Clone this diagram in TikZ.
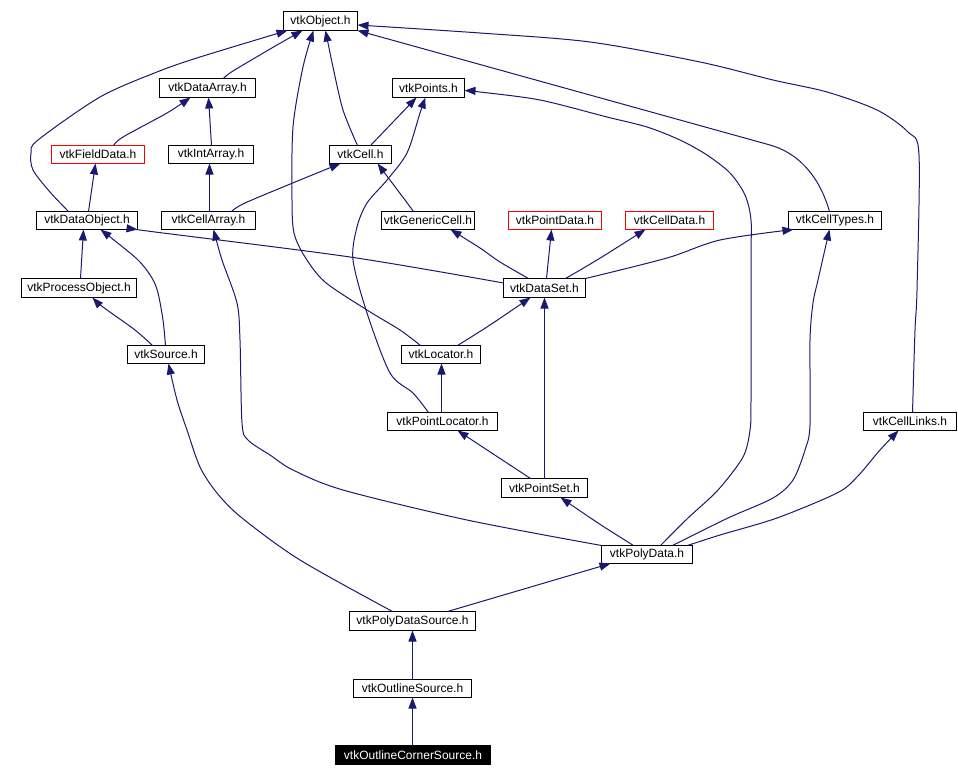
\documentclass[tikz,border=0pt]{standalone}
\usepackage{fontspec}
\setmainfont{Liberation Sans}
\usetikzlibrary{arrows.meta}
\definecolor{edgec}{HTML}{191970}
\definecolor{redb}{HTML}{FF0000}
\newcommand\gnode[7][]{\node[box,#1,minimum width={#5pt-#3pt},minimum height={#6pt-#4pt}] (#2) at ({#3+0.5},{#4+0.5}) {#7};}
\tikzset{
  box/.style={draw=black, line width=1pt, anchor=north west, inner sep=0pt, outer sep=0pt, font=\fontsize{12}{14}\selectfont},
  redbox/.style={draw=redb},
  focus/.style={fill=black, text=white},
  edge/.style={draw=edgec, line width=1pt, -{Triangle[length=11pt,width=8pt]}},
}
\begin{document}
\begin{tikzpicture}[x=1pt,y=-1pt]
\fill[white] (0,0) rectangle (958,776);
\useasboundingbox (0,0) rectangle (958,776);
% nodes
\gnode{Object}{283}{11}{357}{30}{vtkObject.h}
\gnode{DataArray}{159}{78}{255}{97}{vtkDataArray.h}
\gnode{Points}{392}{78}{464}{97}{vtkPoints.h}
\gnode[redbox]{FieldData}{51}{145}{144}{163}{vtkFieldData.h}
\gnode{IntArray}{168}{145}{253}{163}{vtkIntArray.h}
\gnode{Cell}{329}{145}{391}{163}{vtkCell.h}
\gnode{DataObject}{36}{211}{137}{229}{vtkDataObject.h}
\gnode{CellArray}{161}{211}{255}{229}{vtkCellArray.h}
\gnode{GenericCell}{381}{211}{474}{229}{vtkGenericCell.h}
\gnode[redbox]{PointData}{508}{211}{601}{229}{vtkPointData.h}
\gnode[redbox]{CellData}{625}{211}{713}{229}{vtkCellData.h}
\gnode{CellTypes}{788}{211}{881}{229}{vtkCellTypes.h}
\gnode{ProcessObject}{21}{278}{136}{297}{vtkProcessObject.h}
\gnode{DataSet}{503}{278}{585}{297}{vtkDataSet.h}
\gnode{Source}{127}{345}{204}{363}{vtkSource.h}
\gnode{Locator}{401}{345}{480}{363}{vtkLocator.h}
\gnode{PointLocator}{387}{412}{497}{430}{vtkPointLocator.h}
\gnode{CellLinks}{863}{412}{956}{430}{vtkCellLinks.h}
\gnode{PointSet}{501}{478}{587}{497}{vtkPointSet.h}
\gnode{PolyData}{601}{545}{692}{563}{vtkPolyData.h}
\gnode{PolyDataSource}{349}{611}{475}{630}{vtkPolyDataSource.h}
\gnode{OutlineSource}{353}{679}{471}{697}{vtkOutlineSource.h}
\gnode[focus]{OutlineCornerSource}{335}{745}{490}{764}{vtkOutlineCornerSource.h}
% edges
\draw[edge] plot[smooth] coordinates {([xshift=64pt]DataArray.north west) (233,71) (277,45) ([xshift=19pt]Object.south west)};
\draw[edge] plot[smooth] coordinates {([xshift=32pt]DataObject.north west) (50,192) (33,170) (31,153) (38,140) (100,97) (157,72) (200,57) ([xshift=4pt]Object.south west)};
\draw[edge] plot[smooth] coordinates {([xshift=62pt]FieldData.north west) (123,137) (167,113) ([xshift=31pt]DataArray.south west)};
\draw[edge] ([xshift=43pt]IntArray.north west) -- ([xshift=49pt]DataArray.south west);
\draw[edge] ([xshift=52pt]DataObject.north west) -- ([xshift=44pt]FieldData.south west);
\draw[edge] ([xshift=48pt]CellArray.north west) -- ([xshift=41pt]IntArray.south west);
\draw[edge] plot[smooth] coordinates {([xshift=70pt]CellArray.north west) (245,203) (300,180) ([xshift=11pt]Cell.south west)};
\draw[edge] plot[smooth] coordinates {([xshift=28pt]Cell.north west) (343,110) (333,67) ([xshift=42pt]Object.south west)};
\draw[edge] ([xshift=41pt]Cell.north west) -- ([xshift=24pt]Points.south west);
\draw[edge] plot[smooth] coordinates {([xshift=32pt]GenericCell.north west) (405,200) ([xshift=48pt]Cell.south west)};
\draw[edge] plot[smooth] coordinates {([xshift=19pt]Locator.north west) (400,330) (367,310) (325,282) (305,257) (294,233) (292,200) (293,127) (303,67) ([xshift=30pt]Object.south west)};
\draw[edge] plot[smooth] coordinates {([xshift=41pt]PointLocator.north west) (413,393) (390,373) (367,313) (353,260) (357,227) (367,203) (387,180) (407,153) (420,113) ([xshift=33pt]Points.south west)};
\draw[edge] plot[smooth] coordinates {([yshift=5pt]DataSet.west) (350,257) (155,232) (DataObject.south east)};
\draw[edge] plot[smooth] coordinates {([xshift=25pt]DataSet.north west) (500,262) (480,248) ([xshift=69pt]GenericCell.south west)};
\draw[edge] ([xshift=43pt]DataSet.north west) -- ([xshift=43pt]PointData.south west);
\draw[edge] plot[smooth] coordinates {([xshift=62pt]DataSet.north west) (597,260) ([xshift=20pt]CellData.south west)};
\draw[edge] plot[smooth] coordinates {(DataSet.north east) (667,258) (720,240) ([xshift=5pt]CellTypes.south west)};
\draw[edge] ([xshift=59pt]ProcessObject.north west) -- ([xshift=47pt]DataObject.south west);
\draw[edge] plot[smooth] coordinates {([xshift=38pt]Source.north west) (163,320) (158,293) (152,278) (137,259) ([xshift=64pt]DataObject.south west)};
\draw[edge] plot[smooth] coordinates {([xshift=25pt]Source.north west) (135,330) (103,307) ([xshift=71pt]ProcessObject.south west)};
\draw[edge] plot[smooth] coordinates {([xshift=56pt]Locator.north west) (490,325) ([xshift=27pt]DataSet.south west)};
\draw[edge] ([xshift=54pt]PointLocator.north west) -- ([xshift=40pt]Locator.south west);
\draw[edge] ([xshift=43pt]PointSet.north west) -- ([xshift=41pt]DataSet.south west);
\draw[edge] plot[smooth] coordinates {([xshift=29pt]PointSet.north west) (510,465) ([xshift=70pt]PointLocator.south west)};
\draw[edge] plot[smooth] coordinates {([xshift=32pt]PolyData.north west) (598,523) ([xshift=59pt]PointSet.south west)};
\draw[edge] plot[smooth] coordinates {(PolyData.north west) (467,520) (343,490) (293,470) (270,455) (248,440) (242,423) (240,340) (237,303) (222,260) ([xshift=52pt]CellArray.south west)};
\draw[edge] plot[smooth] coordinates {([xshift=59pt]PolyData.north west) (688,518) (718,490) (743,457) (750,430) (751,400) (751,260) (751,220) (745,195) (730,173) (707,155) (680,140) (647,127) (607,117) (540,100) (480,92) ([yshift=-2.5pt]Points.east)};
\draw[edge] plot[smooth] coordinates {([xshift=71pt]PolyData.north west) (728,518) (773,498) (793,480) (805,450) (810,425) (810,340) (813,303) (818,280) ([xshift=41pt]CellTypes.south west)};
\draw[edge] plot[smooth] coordinates {([xshift=86pt]PolyData.north west) (720,535) (777,518) (837,493) (857,477) (880,450) ([xshift=35pt]CellLinks.south west)};
\draw[edge] plot[smooth] coordinates {([xshift=49pt]CellLinks.north west) (915,330) (917,290) (919,155) (908,132) (877,110) (827,92) (773,80) (700,62) (590,42) (480,33) ([yshift=-4pt]Object.east)};
\draw[edge] ([xshift=41pt]CellTypes.north west) .. controls (822,185) and (805,155) .. (770,145) -- (Object.south east);
\draw[edge] ([xshift=98pt]PolyDataSource.north west) -- ([xshift=9pt]PolyData.south west);
\draw[edge] plot[smooth] coordinates {([xshift=43pt]PolyDataSource.north west) (300,560) (242,518) (217,493) (200,467) (187,430) (177,400) ([xshift=41pt]Source.south west)};
\draw[edge] ([xshift=59pt]OutlineSource.north west) -- ([xshift=63pt]PolyDataSource.south west);
\draw[edge] ([xshift=77pt]OutlineCornerSource.north west) -- ([xshift=59pt]OutlineSource.south west);
\end{tikzpicture}
\end{document}
